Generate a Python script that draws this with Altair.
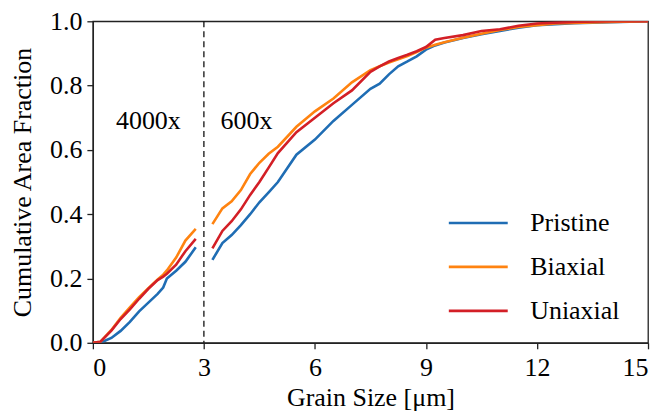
import altair as alt
import pandas as pd

series_names = ["Pristine", "Biaxial", "Uniaxial"]
series_colors = ["#1f6db4", "#ff8310", "#d31f26"]

# 4000x segment
x_4000 = [0.0, 0.2, 0.5, 0.75, 1.0, 1.25, 1.5, 1.75, 1.9, 2.0, 2.25, 2.5, 2.78]
pristine_4000 = [0.0, 0.0, 0.015, 0.037, 0.065, 0.098, 0.125, 0.152, 0.172, 0.20, 0.224, 0.252, 0.297]
biaxial_4000 = [0.0, 0.003, 0.04, 0.078, 0.11, 0.142, 0.17, 0.197, 0.212, 0.225, 0.265, 0.318, 0.354]
uniaxial_4000 = [0.0, 0.003, 0.038, 0.074, 0.104, 0.137, 0.168, 0.195, 0.206, 0.215, 0.243, 0.285, 0.323]

# 600x segment
x_600 = [3.23, 3.5, 3.75, 4.0, 4.25, 4.5, 4.75, 5.0, 5.5, 6.0, 6.5, 7.0, 7.5, 7.75, 8.0,
         8.25, 8.5, 8.75, 9.0, 9.25, 9.5, 10.0, 10.5, 11.0, 11.5, 12.0, 12.5, 13.0, 14.0, 15.0]
pristine_600 = [0.258, 0.31, 0.335, 0.366, 0.40, 0.437, 0.468, 0.50, 0.585, 0.632, 0.69, 0.74, 0.79, 0.806, 0.835,
                0.86, 0.875, 0.891, 0.912, 0.925, 0.934, 0.948, 0.96, 0.970, 0.98, 0.988, 0.991, 0.994, 0.997, 1.0]
biaxial_600 = [0.369, 0.418, 0.44, 0.475, 0.525, 0.56, 0.588, 0.61, 0.672, 0.72, 0.76, 0.81, 0.848, 0.86, 0.872,
               0.882, 0.892, 0.904, 0.918, 0.927, 0.935, 0.949, 0.961, 0.973, 0.982, 0.988, 0.993, 0.995, 0.998, 1.0]
uniaxial_600 = [0.294, 0.348, 0.378, 0.415, 0.46, 0.50, 0.545, 0.59, 0.655, 0.70, 0.745, 0.785, 0.843, 0.86, 0.875,
                0.886, 0.896, 0.907, 0.92, 0.943, 0.948, 0.957, 0.970, 0.975, 0.986, 0.993, 0.996, 0.998, 1.0, 1.0]

x_ticks = [0, 3, 6, 9, 12, 15]
y_ticks = [0.0, 0.2, 0.4, 0.6, 0.8, 1.0]

annot_labels = ["4000x", "600x"]
annot_x = [1.5, 4.15]
annot_y = [0.69, 0.69]

divider_x = [3]

rows = []
for name, seg_vals in zip(series_names,
                          [(pristine_4000, pristine_600),
                           (biaxial_4000, biaxial_600),
                           (uniaxial_4000, uniaxial_600)]):
    for seg, xs, ys in (("4000x", x_4000, seg_vals[0]), ("600x", x_600, seg_vals[1])):
        for xv, yv in zip(xs, ys):
            rows.append({"series": name, "segment": name + seg, "x": xv, "y": yv})
df = pd.DataFrame(rows)

FONT = "Liberation Serif"
FS = 26

xscale = alt.Scale(domain=[0, 15], nice=False, zero=False)
yscale = alt.Scale(domain=[0, 1], nice=False)

lines = alt.Chart(df).mark_line(strokeWidth=2.6, clip=True).encode(
    x=alt.X("x:Q", scale=xscale,
            axis=alt.Axis(values=x_ticks, title="Grain Size [μm]", format="d")),
    y=alt.Y("y:Q", scale=yscale,
            axis=alt.Axis(values=y_ticks, title="Cumulative Area Fraction", format=".1f")),
    color=alt.Color("series:N",
                    scale=alt.Scale(domain=series_names, range=series_colors),
                    sort=series_names,
                    legend=alt.Legend(
                        title=None, orient="none", legendX=355, legendY=171,
                        symbolType="stroke", symbolSize=3481, symbolStrokeWidth=2.6,
                        labelFont=FONT, labelFontSize=FS, labelColor="black",
                        labelOffset=21, rowPadding=-22, padding=0,
                        labelLimit=300)),
    detail="segment:N",
    order="x:Q",
)

rule = alt.Chart(pd.DataFrame({"x": divider_x})).mark_rule(
    color="#111111", strokeWidth=1.3, strokeDash=[6, 4]
).encode(x=alt.X("x:Q", scale=xscale))

text = alt.Chart(pd.DataFrame({"label": annot_labels, "x": annot_x, "y": annot_y})).mark_text(
    font=FONT, fontSize=FS, color="black", align="center", baseline="middle"
).encode(x=alt.X("x:Q", scale=xscale), y=alt.Y("y:Q", scale=yscale), text="label:N")

chart = alt.layer(rule, lines, text).properties(
    width=556, height=322,
    autosize=alt.AutoSizeParams(type="none"),
    padding={"left": 85, "top": 13, "right": 8, "bottom": 72},
).configure_view(
    stroke="#222222", strokeWidth=1.3
).configure_axis(
    grid=False, domainColor="#222222", domainWidth=1.3,
    tickColor="#222222", tickWidth=1.3, tickSize=6,
    labelFont=FONT, labelFontSize=FS, labelColor="black", labelPadding=5,
    titleFont=FONT, titleFontSize=FS, titleColor="black", titleFontWeight="normal",
).configure_axisX(
    labelPadding=6, titlePadding=4
).configure_axisY(
    titlePadding=14
)

chart.save("out.html", embed_options={"renderer": "svg", "actions": False})
